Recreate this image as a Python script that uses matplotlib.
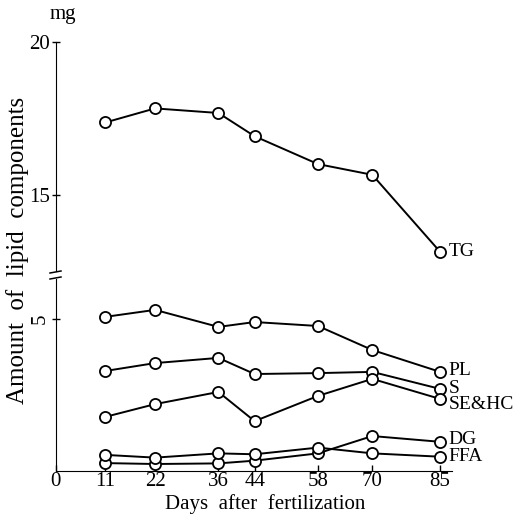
import matplotlib
matplotlib.use("Agg")
import matplotlib.pyplot as plt
from matplotlib.lines import Line2D

# data (mg)
days = [11, 22, 36, 44, 58, 70, 85]
tg = [17.37, 17.83, 17.68, 16.92, 16.01, 15.66, 13.14]
pl = [5.07, 5.30, 4.74, 4.90, 4.77, 3.98, 3.26]
s = [3.29, 3.55, 3.72, 3.19, 3.22, 3.26, 2.70]
se_hc = [1.78, 2.20, 2.60, 1.64, 2.47, 3.03, 2.37]
dg = [0.26, 0.23, 0.25, 0.34, 0.58, 1.15, 0.96]
ffa = [0.53, 0.44, 0.58, 0.55, 0.77, 0.58, 0.47]

xticks = [0, 11, 22, 36, 44, 58, 70, 85]

plt.rcParams["font.family"] = ["Liberation Serif", "DejaVu Serif"]
plt.rcParams["font.size"] = 14

W, H = 518, 515
fig = plt.figure(figsize=(W / 100, H / 100), dpi=100)

left = 55.5 / W
right = 451.5 / W
ax_top = fig.add_axes([left, 1 - 271 / H, right - left, (271 - 42) / H])
ax_bot = fig.add_axes([left, 1 - 471 / H, right - left, (471 - 279) / H])

line_kw = dict(color="black", lw=1.4, marker="o", markersize=8,
               markerfacecolor="white", markeredgecolor="black",
               markeredgewidth=1.3, clip_on=False, zorder=3)

ax_top.plot(days, tg, **line_kw)
for ser in [pl, s, se_hc, dg, ffa]:
    ax_bot.plot(days, ser, **line_kw)

ax_top.set_xlim(0, 87.5)
ax_bot.set_xlim(0, 87.5)
ax_top.set_ylim(20 - (271 - 42) / 30.6, 20)
ax_bot.set_ylim(0, (471 - 279) / 30.4)

for ax in (ax_top, ax_bot):
    ax.spines["top"].set_visible(False)
    ax.spines["right"].set_visible(False)
    ax.patch.set_visible(False)
    ax.tick_params(direction="inout", length=6, width=1, pad=1,
                   labelsize=15)

ax_top.spines["bottom"].set_visible(False)
ax_top.set_xticks([])
ax_top.set_yticks([15, 20])

ax_bot.set_yticks([5])
ax_bot.set_yticklabels(["5"], rotation=90, va="center")
ax_bot.set_xticks(xticks)
ax_bot.tick_params(axis="x", direction="in", length=4, pad=1)
ax_bot.set_xlabel("Days  after  fertilization", fontsize=15)
ax_bot.xaxis.set_label_coords(0.53, -0.12)

# series labels at the right end
labels = [(ax_top, tg, "TG", 0), (ax_bot, pl, "PL", 1), (ax_bot, s, "S", 0),
          (ax_bot, se_hc, "SE&HC", -4), (ax_bot, dg, "DG", 2),
          (ax_bot, ffa, "FFA", 0)]
for ax, ser, name, dy in labels:
    ax.annotate(name, (days[-1], ser[-1]), xytext=(6, dy),
                textcoords="offset points", va="center", ha="left",
                fontsize=14)

fig.text(18 / W, 1 - 250 / H, "Amount  of  lipid  components", rotation=90,
         ha="center", va="center", fontsize=18)
fig.text(63 / W, 1 - 14 / H, "mg", ha="center", va="center", fontsize=15)

# axis break marks
for yy in (272, 278):
    fig.add_artist(Line2D([50 / W, 61 / W], [1 - (yy + 1) / H, 1 - (yy - 1) / H],
                          color="black", lw=1.1))

fig.savefig("out.png", dpi=100)
